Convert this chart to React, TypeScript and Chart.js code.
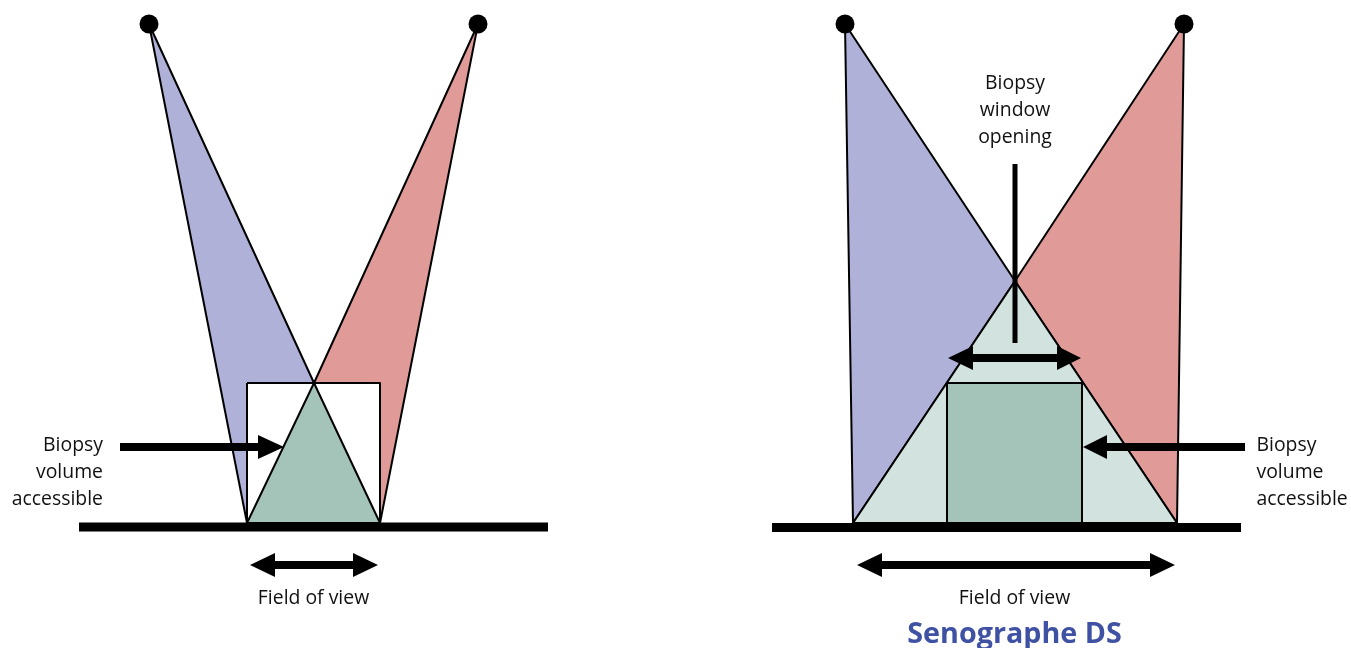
import React, { useEffect, useRef } from "react";
import { Chart, registerables } from "chart.js";

Chart.register(...registerables);

type Pt = [number, number];

// Left geometry
const leftBlue: Pt[] = [[149, 24], [247, 523], [314, 383], [149, 24]];
const leftRed: Pt[] = [[478, 24], [380, 523], [314, 383], [478, 24]];
const leftWindow: Pt[] = [[247, 383], [380, 383], [380, 523], [247, 523], [247, 383]];
const leftVolume: Pt[] = [[314, 383], [380, 523], [247, 523], [314, 383]];
const leftBase: Pt[] = [[79, 527], [548, 527]];
const leftBiopsyArrow: Pt[] = [[120, 443], [258, 443], [258, 435], [284, 447], [258, 459], [258, 451], [120, 451], [120, 443]];
const leftFieldArrow: Pt[] = [[250, 565], [275, 553], [275, 561], [353, 561], [353, 553], [378, 565], [353, 577], [353, 569], [275, 569], [275, 577], [250, 565]];
const leftSources: Pt[] = [[149, 24], [478, 24]];

// Right geometry
const rightBlue: Pt[] = [[845, 24], [853, 523], [1015, 281], [845, 24]];
const rightRed: Pt[] = [[1184, 24], [1177, 523], [1015, 281], [1184, 24]];
const rightField: Pt[] = [[1015, 281], [1177, 523], [853, 523], [1015, 281]];
const rightVolume: Pt[] = [[947, 383], [1082, 383], [1082, 523], [947, 523], [947, 383]];
const rightBase: Pt[] = [[772, 527.5], [1241, 527.5]];
const rightProbe: Pt[] = [[1015, 164], [1015, 343]];
const rightWindowArrow: Pt[] = [[948, 358], [973, 346], [973, 354], [1057, 354], [1057, 346], [1081, 358], [1057, 370], [1057, 362], [973, 362], [973, 370], [948, 358]];
const rightBiopsyArrow: Pt[] = [[1245, 443], [1107, 443], [1107, 435], [1083, 447], [1107, 459], [1107, 451], [1245, 451], [1245, 443]];
const rightFieldArrow: Pt[] = [[857, 565], [882, 553], [882, 561], [1150, 561], [1150, 553], [1175, 565], [1150, 577], [1150, 569], [882, 569], [882, 577], [857, 565]];
const rightSources: Pt[] = [[845, 24], [1184, 24]];

// Text
const leftBiopsyLabel = ["Biopsy", "volume", "accessible"];
const rightBiopsyLabel = ["Biopsy", "volume", "accessible"];
const windowLabel = ["Biopsy", "window", "opening"];
const fieldLabel = "Field of view";
const titleLabel = "Senographe DS";

const BLUE = "#afb1d8";
const RED = "#e09b98";
const GREEN = "#a4c4ba";
const PALE = "#d2e2de";
const BODY_FONT = '19.4px "Open Sans"';

const pts = (a: Pt[]) => a.map(([x, y]) => ({ x, y }));

const shape = (a: Pt[], fill: string, borderWidth = 2) => ({
  data: pts(a),
  showLine: true,
  fill: "shape" as const,
  backgroundColor: fill,
  borderColor: "#000",
  borderWidth,
  borderJoinStyle: "round" as const,
  pointRadius: 0,
  tension: 0,
});
const stroke = (a: Pt[], borderWidth: number) => ({
  data: pts(a),
  showLine: true,
  fill: false,
  borderColor: "#000",
  borderWidth,
  borderCapStyle: "butt" as const,
  pointRadius: 0,
});
const dots = (a: Pt[]) => ({
  data: pts(a),
  showLine: false,
  pointRadius: 9.5,
  pointBackgroundColor: "#000",
  pointBorderWidth: 0,
});

const textPlugin = {
  id: "diagramText",
  afterDatasetsDraw(chart: any) {
    const { ctx, scales } = chart;
    const put = (t: string, x: number, y: number, align: CanvasTextAlign, font: string, color: string) => {
      ctx.font = font;
      ctx.fillStyle = color;
      ctx.textAlign = align;
      ctx.textBaseline = "middle";
      ctx.fillText(t, scales.x.getPixelForValue(x), scales.y.getPixelForValue(y));
    };
    ctx.save();
    leftBiopsyLabel.forEach((t, i) => put(t, 103, 445 + i * 27, "right", BODY_FONT, "#111"));
    rightBiopsyLabel.forEach((t, i) => put(t, 1256.5, 445 + i * 27, "left", BODY_FONT, "#111"));
    windowLabel.forEach((t, i) => put(t, 1015, 83.5 + i * 27, "center", BODY_FONT, "#111"));
    put(fieldLabel, 313.5, 598, "center", BODY_FONT, "#111");
    put(fieldLabel, 1014.5, 598, "center", BODY_FONT, "#111");
    put(titleLabel, 1014.5, 635, "center", 'bold 28.7px "Open Sans"', "#3f51a3");
    ctx.restore();
  },
};

export default function App() {
  const ref = useRef<HTMLCanvasElement>(null);
  useEffect(() => {
    const datasets: any[] = [
      shape(leftBlue, BLUE),
      shape(leftRed, RED),
      shape(leftWindow, "#fff"),
      shape(leftVolume, GREEN),
      stroke(leftBase, 9),
      shape(leftBiopsyArrow, "#000", 0),
      shape(leftFieldArrow, "#000", 0),
      dots(leftSources),
      shape(rightBlue, BLUE),
      shape(rightRed, RED),
      shape(rightField, PALE),
      shape(rightVolume, GREEN),
      stroke(rightBase, 9),
      stroke(rightProbe, 5),
      shape(rightWindowArrow, "#000", 0),
      shape(rightBiopsyArrow, "#000", 0),
      shape(rightFieldArrow, "#000", 0),
      dots(rightSources),
    ].map((d, i, all) => ({ ...d, order: all.length - i, clip: false }));

    const chart = new Chart(ref.current!, {
      type: "scatter",
      data: { datasets },
      options: {
        responsive: false,
        animation: false,
        devicePixelRatio: 1,
        layout: { padding: 0, autoPadding: false },
        plugins: { legend: { display: false }, tooltip: { enabled: false } },
        scales: {
          x: { type: "linear", min: 0, max: 1351, display: false },
          y: { type: "linear", min: 0, max: 648, reverse: true, display: false },
        },
      },
      plugins: [textPlugin],
    } as any);
    return () => chart.destroy();
  }, []);
  return (
    <canvas
      ref={ref}
      width={1351}
      height={648}
      style={{ position: "absolute", left: 0, top: 0, display: "block" }}
    />
  );
}
